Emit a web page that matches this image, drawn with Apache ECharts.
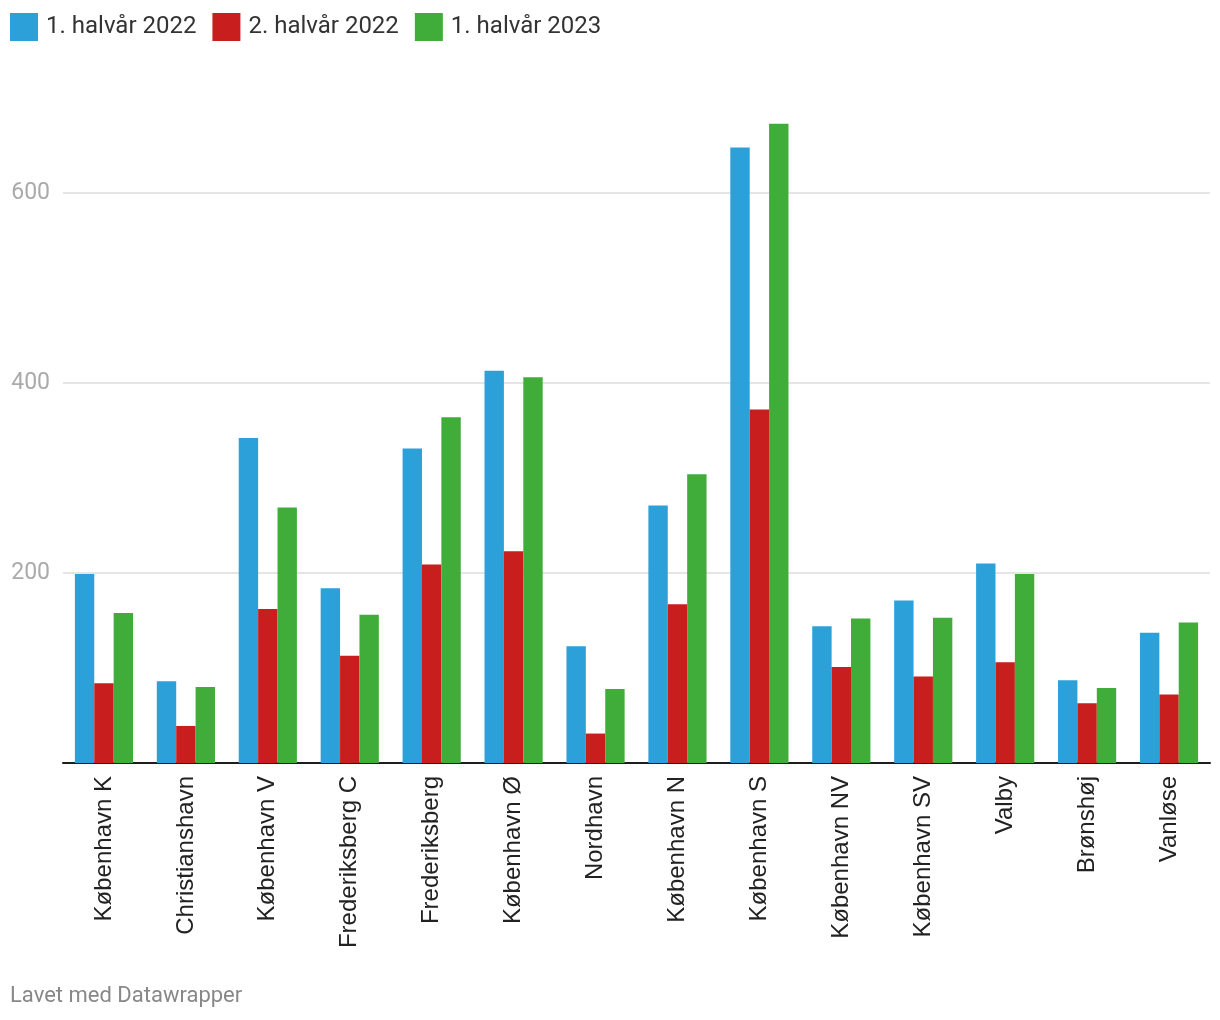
<!DOCTYPE html>
<html><head><meta charset="utf-8">
<script src="https://cdn.jsdelivr.net/npm/echarts@6/dist/echarts.min.js"></script>
<style>html,body{margin:0;padding:0;background:#fff}#c{width:1220px;height:1020px}</style>
</head><body><div id="c"></div>
<script>
const categories = ["København K","Christianshavn","København V","Frederiksberg C","Frederiksberg","København Ø","Nordhavn","København N","København S","København NV","København SV","Valby","Brønshøj","Vanløse"];
const seriesNames = ["1. halvår 2022","2. halvår 2022","1. halvår 2023"];
const h1_2022 = [199, 86, 342, 184, 331, 413, 123, 271, 648, 144, 171, 210, 87, 137];
const h2_2022 = [84, 39, 162, 113, 209, 223, 31, 167, 372, 101, 91, 106, 63, 72];
const h1_2023 = [158, 80, 269, 156, 364, 406, 78, 304, 673, 152, 153, 199, 79, 148];
const colors = ["#2ca0d9","#c81e1e","#40ad3a"];
const chart = echarts.init(document.getElementById('c'), null, {renderer:'canvas'});
const F = 'Roboto, "Noto Sans", sans-serif';
const FA = '"Liberation Sans", Arial, sans-serif';
chart.setOption({
  animation:false,
  color: colors,
  textStyle:{fontFamily:F},
  legend:{
    left:10, top:13, padding:0, itemWidth:28, itemHeight:28, itemGap:16, icon:'rect',
    textStyle:{fontSize:24, color:'#333', fontFamily:F, padding:[0,0,0,3]},
    data: seriesNames
  },
  grid:{left:63, right:10, top:98, bottom:257, containLabel:false},
  xAxis:{
    type:'category', data:categories,
    axisLine:{lineStyle:{color:'#1d1d1d', width:2}},
    axisTick:{show:false},
    axisLabel:{rotate:90, fontSize:24, color:'#222', margin:13, fontFamily:FA, interval:0}
  },
  yAxis:{
    type:'value', min:0, max:700, interval:200,
    axisLine:{show:false}, axisTick:{show:false},
    splitLine:{lineStyle:{color:'#e5e5e5', width:2}, showMinLine:false, showMaxLine:false},
    axisLabel:{fontSize:23, color:'#aaa', fontFamily:F, margin:13,
      formatter:v => (v===0||v===700)?'':String(v)}
  },
  series:[
    {name:seriesNames[0], type:'bar', data:h1_2022, barGap:'0%', barCategoryGap:'29%'},
    {name:seriesNames[1], type:'bar', data:h2_2022, barGap:'0%', barCategoryGap:'29%'},
    {name:seriesNames[2], type:'bar', data:h1_2023, barGap:'0%', barCategoryGap:'29%'}
  ],
  graphic:[{type:'text', left:10, top:985, style:{text:'Lavet med Datawrapper', fontSize:22, fill:'#888', fontFamily:F}}]
});
</script></body></html>
